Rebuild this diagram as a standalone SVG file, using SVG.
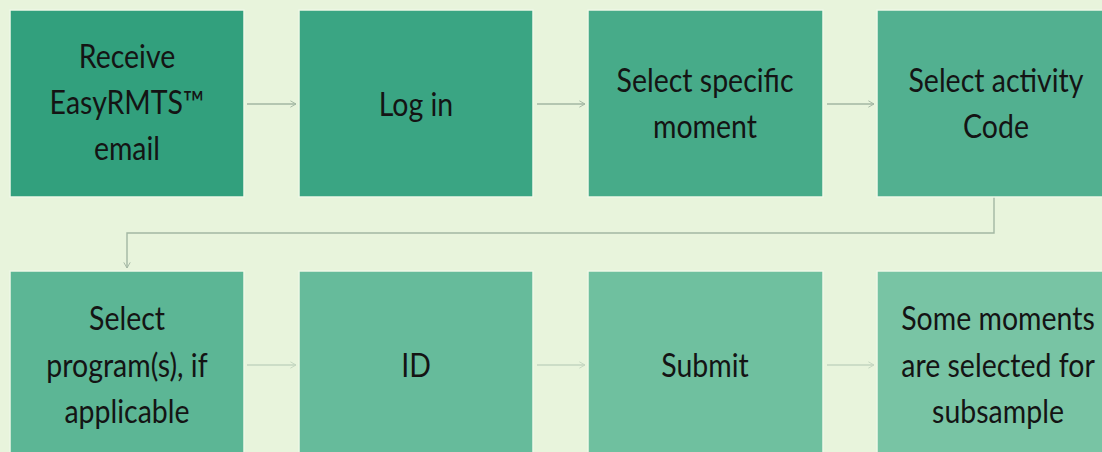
<svg xmlns="http://www.w3.org/2000/svg" width="1102" height="452" viewBox="0 0 1102 452">
  <style>
    .box { stroke: #eef7e6; stroke-width: 1.5; }
    .lbl { font-family: Lato, "Open Sans", "DejaVu Sans", sans-serif; font-size: 30px; fill: #141414; text-anchor: middle; }
    .link { fill: none; stroke: #a3b7a3; stroke-width: 1.4; marker-end: url(#chev); }
    .link.soft { stroke: #c3d6c0; }
  </style>
  <defs>
    <marker id="chev" viewBox="0 0 10 10" refX="9" refY="5" markerWidth="8" markerHeight="8" markerUnits="userSpaceOnUse" orient="auto">
      <path d="M2,1 L9,5 L2,9" fill="none" stroke="context-stroke" stroke-width="1.2"/>
    </marker>
  </defs>

  <rect width="1102" height="452" fill="#e8f4dc"/>

  <!-- connectors -->
  <g id="connectors">
    <path class="link" d="M247,104 H296"/>
    <path class="link" d="M537,104 H585"/>
    <path class="link" d="M827,104 H874"/>
    <path class="link" d="M994,197 V233 H127 V268"/>
    <path class="link soft" d="M247,365 H296"/>
    <path class="link soft" d="M537,365 H585"/>
    <path class="link soft" d="M827,365 H874"/>
  </g>

  <!-- top row; labels are drawn slightly narrow and tall -->
  <g id="receive-email">
    <rect class="box" x="10" y="10" width="234" height="187" fill="#32a07d"/>
    <text class="lbl" transform="translate(127,68) scale(0.95,1.08)">Receive</text>
    <text class="lbl" transform="translate(127,114) scale(0.95,1.08)">EasyRMTS™</text>
    <text class="lbl" transform="translate(127,160) scale(0.95,1.08)">email</text>
  </g>
  <g id="log-in">
    <rect class="box" x="299" y="10" width="234" height="187" fill="#3aa583"/>
    <text class="lbl" transform="translate(416,116) scale(0.95,1.08)">Log in</text>
  </g>
  <g id="select-moment">
    <rect class="box" x="588" y="10" width="235" height="187" fill="#47ab89"/>
    <text class="lbl" transform="translate(705,92) scale(0.95,1.08)">Select specific</text>
    <text class="lbl" transform="translate(705,138) scale(0.95,1.08)">moment</text>
  </g>
  <g id="select-activity">
    <rect class="box" x="877" y="10" width="235" height="187" fill="#52b090"/>
    <text class="lbl" transform="translate(996,92) scale(0.95,1.08)">Select activity</text>
    <text class="lbl" transform="translate(996,138) scale(0.95,1.08)">Code</text>
  </g>

  <!-- bottom row -->
  <g id="select-program">
    <rect class="box" x="10" y="271" width="234" height="190" fill="#5cb695"/>
    <text class="lbl" transform="translate(127,330) scale(0.95,1.08)">Select</text>
    <text class="lbl" transform="translate(127,377) scale(0.95,1.08)">program(s), if</text>
    <text class="lbl" transform="translate(127,423) scale(0.95,1.08)">applicable</text>
  </g>
  <g id="id-step">
    <rect class="box" x="299" y="271" width="234" height="190" fill="#66bb9b"/>
    <text class="lbl" transform="translate(416,377) scale(0.95,1.08)">ID</text>
  </g>
  <g id="submit">
    <rect class="box" x="588" y="271" width="235" height="190" fill="#6fc09f"/>
    <text class="lbl" transform="translate(705,377) scale(0.95,1.08)">Submit</text>
  </g>
  <g id="subsample">
    <rect class="box" x="877" y="271" width="235" height="190" fill="#78c4a4"/>
    <text class="lbl" transform="translate(998,330) scale(0.95,1.08)">Some moments</text>
    <text class="lbl" transform="translate(998,377) scale(0.95,1.08)">are selected for</text>
    <text class="lbl" transform="translate(998,423) scale(0.95,1.08)">subsample</text>
  </g>
</svg>
